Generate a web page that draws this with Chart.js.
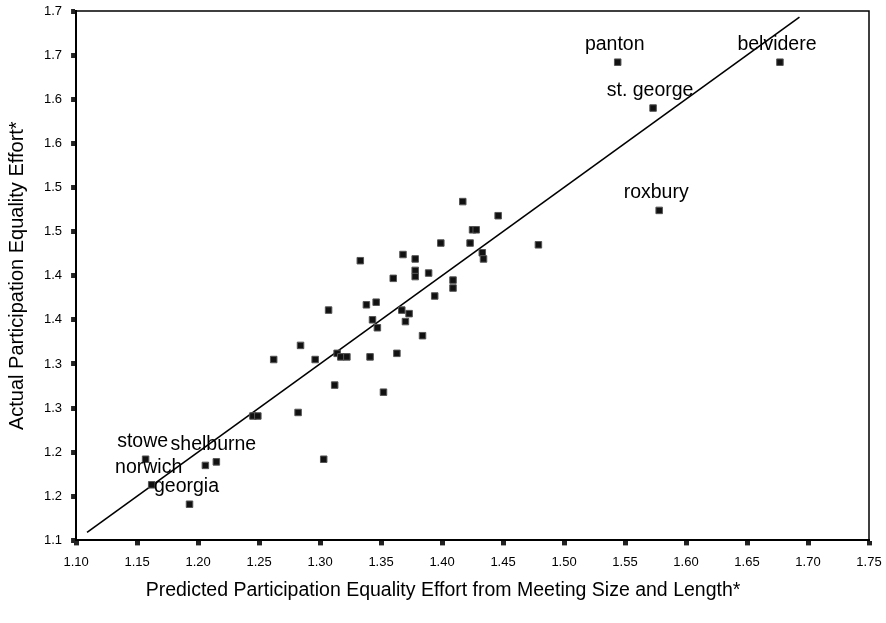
<!DOCTYPE html>
<html lang="en">
<head>
    <meta charset="UTF-8">
    <title>Participation Equality Effort</title>
    <script src="https://cdn.jsdelivr.net/npm/chart.js"></script>
    <style>
        html, body { margin: 0; padding: 0; background: #fff; overflow: hidden; }
        .chart-container { position: relative; width: 886px; height: 623px; }
    </style>
</head>
<body>
    <div class="chart-container">
        <canvas id="effortChart" width="886" height="623"></canvas>
    </div>

    <script>
        // town data
        const townNames = [
            'stowe', 'shelburne', '', 'norwich', 'georgia', '', '', '', '', '',
            '', '', '', '', '', '', '', '', '', '',
            '', '', '', '', '', '', '', '', '', '',
            '', '', '', '', '', '', '', '', '', '',
            '', '', '', '', '', '', '',
            'panton', 'belvidere', 'st. george', 'roxbury'
        ];
        const predicted = [
            1.157, 1.215, 1.206, 1.162, 1.193, 1.245, 1.249, 1.262, 1.282, 1.303,
            1.417, 1.446, 1.425, 1.428, 1.399, 1.423, 1.479, 1.433, 1.434, 1.368,
            1.378, 1.333, 1.378, 1.378, 1.389, 1.360, 1.409, 1.409, 1.394, 1.307,
            1.338, 1.346, 1.367, 1.373, 1.370, 1.343, 1.347, 1.384, 1.284, 1.296,
            1.314, 1.317, 1.322, 1.341, 1.363, 1.312, 1.352,
            1.544, 1.677, 1.573, 1.578
        ];
        const actual = [
            1.192, 1.189, 1.185, 1.163, 1.141, 1.241, 1.241, 1.305, 1.245, 1.192,
            1.484, 1.468, 1.452, 1.452, 1.437, 1.437, 1.435, 1.426, 1.419, 1.424,
            1.419, 1.417, 1.406, 1.399, 1.403, 1.397, 1.395, 1.386, 1.377, 1.361,
            1.367, 1.370, 1.361, 1.357, 1.348, 1.350, 1.341, 1.332, 1.321, 1.305,
            1.312, 1.308, 1.308, 1.308, 1.312, 1.276, 1.268,
            1.642, 1.642, 1.590, 1.474
        ];

        // fit line end points
        const fitX = [1.109, 1.693];
        const fitY = [1.109, 1.693];

        const xTickLabels = ['1.10', '1.15', '1.20', '1.25', '1.30', '1.35', '1.40',
                             '1.45', '1.50', '1.55', '1.60', '1.65', '1.70', '1.75'];
        const yTickLabels = ['1.1', '1.2', '1.2', '1.3', '1.3', '1.4', '1.4',
                             '1.5', '1.5', '1.6', '1.6', '1.7', '1.7'];

        const xTitle = 'Predicted Participation Equality Effort from Meeting Size and Length*';
        const yTitle = 'Actual Participation Equality Effort*';

        const FONT = "'Liberation Sans', Arial, sans-serif";

        const points = predicted.map((x, i) => ({ x: x, y: actual[i] }));
        const fitLine = fitX.map((x, i) => ({ x: x, y: fitY[i] }));

        // frame on top/right, town names, x title centred on the page
        const extras = {
            id: 'extras',
            beforeDatasetsDraw(chart) {
                const { ctx, chartArea: a } = chart;
                ctx.save();
                ctx.strokeStyle = '#000';
                ctx.lineWidth = 1.5;
                ctx.beginPath();
                ctx.moveTo(a.left, a.top);
                ctx.lineTo(a.right, a.top);
                ctx.lineTo(a.right, a.bottom);
                ctx.stroke();
                ctx.restore();
            },
            afterDatasetsDraw(chart) {
                const { ctx } = chart;
                const meta = chart.getDatasetMeta(0);
                ctx.save();
                ctx.font = '19.5px ' + FONT;
                ctx.fillStyle = '#000';
                ctx.textAlign = 'center';
                ctx.textBaseline = 'alphabetic';
                meta.data.forEach((pt, i) => {
                    if (townNames[i]) {
                        ctx.fillText(townNames[i], pt.x - 3, pt.y - 12);
                    }
                });
                ctx.textBaseline = 'middle';
                ctx.fillText(xTitle, chart.width / 2, 591);
                ctx.restore();
            }
        };

        const ctx = document.getElementById('effortChart').getContext('2d');
        new Chart(ctx, {
            type: 'scatter',
            data: {
                datasets: [{
                    label: 'Towns',
                    data: points,
                    pointStyle: 'rect',
                    pointRadius: 4.6,
                    backgroundColor: '#111',
                    borderColor: '#555',
                    borderWidth: 1
                }, {
                    type: 'line',
                    label: 'Fit',
                    data: fitLine,
                    borderColor: '#000',
                    borderWidth: 1.6,
                    pointRadius: 0,
                    fill: false
                }]
            },
            options: {
                responsive: false,
                animation: false,
                layout: { padding: { top: 11, right: 17, left: 0, bottom: 44 } },
                plugins: {
                    legend: { display: false },
                    tooltip: { enabled: false }
                },
                scales: {
                    x: {
                        type: 'linear',
                        min: 1.10,
                        max: 1.75,
                        border: { color: '#000', width: 2 },
                        grid: {
                            drawOnChartArea: false,
                            tickLength: 5,
                            tickWidth: 5,
                            tickColor: '#222'
                        },
                        ticks: {
                            stepSize: 0.05,
                            padding: 9,
                            color: '#000',
                            font: { family: FONT, size: 13 },
                            callback: (v, i) => xTickLabels[i]
                        },
                        afterFit: (scale) => { scale.paddingRight = 0; scale.paddingLeft = 0; }
                    },
                    y: {
                        type: 'linear',
                        min: 1.10,
                        max: 1.70,
                        border: { color: '#000', width: 2 },
                        grid: {
                            drawOnChartArea: false,
                            tickLength: 5,
                            tickWidth: 5,
                            tickColor: '#222'
                        },
                        ticks: {
                            stepSize: 0.05,
                            padding: 9,
                            color: '#000',
                            font: { family: FONT, size: 13 },
                            callback: (v, i) => yTickLabels[i]
                        },
                        title: {
                            display: true,
                            text: yTitle,
                            color: '#000',
                            font: { family: FONT, size: 20 },
                            padding: { top: 5, bottom: 6 }
                        },
                        afterFit: (scale) => { scale.paddingTop = 0; scale.paddingBottom = 0; }
                    }
                }
            },
            plugins: [extras]
        });
    </script>
</body>
</html>
